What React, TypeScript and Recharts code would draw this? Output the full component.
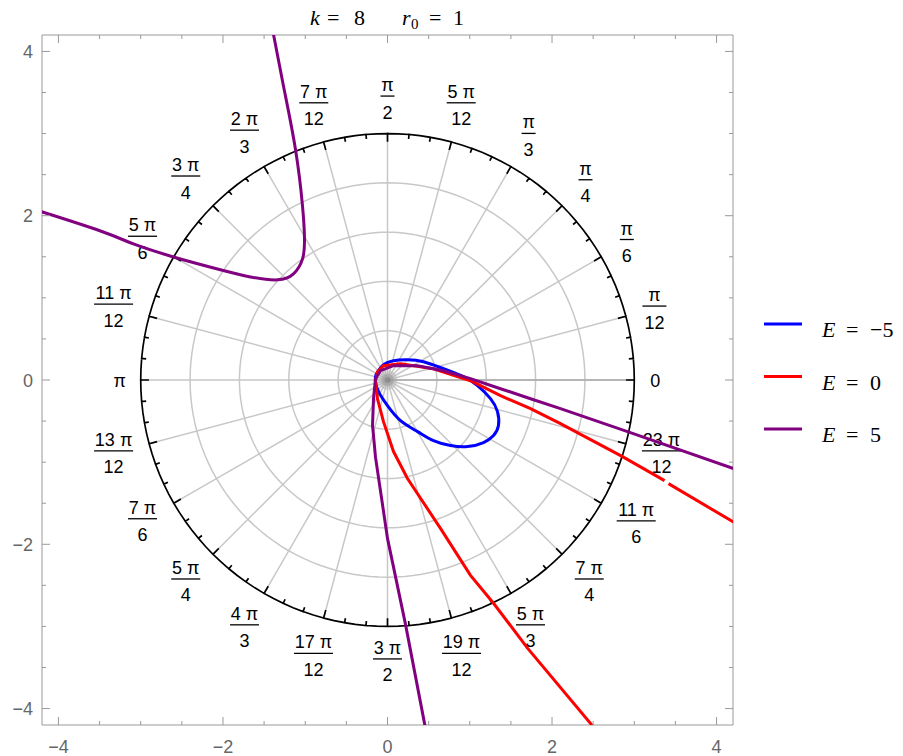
import React from "react";
import { ComposedChart, XAxis, YAxis, Scatter } from "recharts";

// frame ticks (every 0.5, labels on the even ones)
const frameTicks = [-4, -3.5, -3, -2.5, -2, -1.5, -1, -0.5, 0, 0.5, 1, 1.5, 2, 2.5, 3, 3.5, 4];
const majorTicks = [-4, -2, 0, 2, 4];

// polar grid
const ringRadii = [0.6, 1.2, 1.8, 2.4];
const outerRadius = 3;
const angleLabels = [
  "0", "π/12", "π/6", "π/4", "π/3", "5 π/12", "π/2", "7 π/12", "2 π/3", "3 π/4", "5 π/6", "11 π/12",
  "π", "13 π/12", "7 π/6", "5 π/4", "4 π/3", "17 π/12", "3 π/2", "19 π/12", "5 π/3", "7 π/4", "11 π/6", "23 π/12",
];

// orbits
const orbitMinus5 = [
  [-0.146, 0.052], [-0.061, 0.174], [0.073, 0.235], [0.243, 0.247], [0.438, 0.222], [0.681, 0.137],
  [0.924, 0.04], [1.094, -0.069], [1.252, -0.227], [1.337, -0.385], [1.349, -0.555], [1.289, -0.677],
  [1.167, -0.762], [0.973, -0.811], [0.766, -0.798], [0.559, -0.738], [0.365, -0.628], [0.158, -0.495],
  [0, -0.313], [-0.109, -0.142], [-0.146, -0.021], [-0.146, 0.052],
];
const orbitZeroA = [
  [2.559, -4.29], [1.702, -3.264], [1.289, -2.718], [1.009, -2.378], [0.644, -1.807], [0.243, -1.199],
  [0.073, -0.871], [-0.049, -0.507], [-0.122, -0.227], [-0.146, -0.021], [-0.122, 0.101], [-0.049, 0.174],
  [0.158, 0.198], [0.559, 0.137], [1.009, -0.009], [1.374, -0.191], [1.739, -0.349], [2.103, -0.532],
  [2.857, -0.933], [3.368, -1.225],
];
const orbitZeroB = [[3.416, -1.262], [4.195, -1.723], [4.29, -1.78]];
const orbitPlus5A = [
  [-4.34, 2.09], [-4.195, 2.045], [-3.489, 1.814], [-3.088, 1.656], [-2.602, 1.498], [-2.067, 1.352],
  [-1.666, 1.255], [-1.337, 1.219], [-1.143, 1.292], [-1.033, 1.474], [-1.009, 1.717], [-1.033, 2.118],
  [-1.119, 2.81], [-1.264, 3.576], [-1.386, 4.208], [-1.422, 4.39],
];
const orbitPlus5B = [
  [0.474, -4.3], [0.45, -4.18], [0.219, -2.975], [0, -1.928], [-0.146, -0.939], [-0.182, -0.551],
  [-0.17, -0.227], [-0.146, 0.016], [-0.085, 0.113], [0.073, 0.174], [0.365, 0.174], [0.681, 0.113],
  [1.009, 0.016], [1.374, -0.106], [1.739, -0.228], [2.103, -0.349], [2.918, -0.629], [4.207, -1.078],
  [4.316, -1.115],
];

const energies = ["\u22125", "0", "5"];
const colors = ["#0000ff", "#ff0000", "#800080"];

const toPts = (arr: number[][]) => arr.map(([x, y]) => ({ x, y }));

const axisColor = "#999";
const labelColor = "#666";
const sans = "'Liberation Sans', Arial, sans-serif";
const serif = "'Liberation Serif', 'Times New Roman', serif";
const DEG = Math.PI / 180;

const fmt = (v: number) => (v < 0 ? `\u2212${-v}` : `${v}`);

const polar = (r: number, deg: number) => ({ x: r * Math.cos(deg * DEG), y: r * Math.sin(deg * DEG) });

const circlePts = (r: number) => Array.from({ length: 145 }, (_, i) => polar(r, i * 2.5));

const spokes = angleLabels.flatMap((_, i) => [{ x: 0, y: 0 }, polar(outerRadius, i * 15)]);
const zeroSpoke = [{ x: 0, y: 0 }, polar(outerRadius, 0)];

// outer ring traced with its inward ticks (every 5 degrees, longer every 15)
const outerRingPath = Array.from({ length: 144 }, (_, i) => {
  const deg = i * 2.5;
  if (i % 2 === 1) return [polar(outerRadius, deg)];
  const len = deg % 15 === 0 ? 0.1 : 0.055;
  return [polar(outerRadius, deg), polar(outerRadius - len, deg), polar(outerRadius, deg)];
})
  .flat()
  .concat([polar(outerRadius, 0)]);

const labelPts = [
  ...angleLabels.map((label, i) => ({ ...polar(outerRadius, i * 15), deg: i * 15, label })),
  { x: 0, y: 0, deg: 0, label: "" },
];

const none = () => <g />;

const textW = (s: string) => {
  let w = 0;
  for (const c of s) w += c === " " ? 5 : 10;
  return w;
};

const AngleLabel = (props: any) => {
  const { cx, cy, payload } = props;
  const deg = payload?.deg ?? 0;
  const label: string = payload?.label ?? "";
  if (!label) {
    // soft grey spot where all the spokes meet
    return (
      <g>
        <circle cx={cx} cy={cy} r={10} fill="#999" fillOpacity={0.25} />
        <circle cx={cx} cy={cy} r={6} fill="#888" fillOpacity={0.35} />
        <circle cx={cx} cy={cy} r={3} fill="#777" fillOpacity={0.5} />
      </g>
    );
  }
  const a = deg * DEG;
  const c = Math.cos(a);
  const s = Math.sin(a);
  const parts = label.split("/");
  if (parts.length === 1) {
    const d = 16 + Math.abs(c) * 5 + Math.abs(s) * 7;
    return (
      <text x={cx + d * c} y={cy - d * s + 6.5} textAnchor="middle" fontSize={18} fontFamily={sans} fill="#000">
        {parts[0]}
      </text>
    );
  }
  const w = Math.max(textW(parts[0]), textW(parts[1])) + 4;
  const d = 12 + Math.abs(c) * (w / 2) + Math.abs(s) * 23;
  const x = cx + d * c;
  const y = cy - d * s;
  return (
    <g>
      <text x={x} y={y - 7.5} textAnchor="middle" fontSize={18} fontFamily={sans} fill="#000">
        {parts[0]}
      </text>
      <line x1={x - w / 2} x2={x + w / 2} y1={y - 2.5} y2={y - 2.5} stroke="#000" strokeWidth={1.3} />
      <text x={x} y={y + 20} textAnchor="middle" fontSize={18} fontFamily={sans} fill="#000">
        {parts[1]}
      </text>
    </g>
  );
};

const BottomTick = (props: any) => {
  const { x, y, payload } = props;
  const major = majorTicks.includes(payload.value);
  return (
    <g>
      <line x1={x} x2={x} y1={y} y2={y - (major ? 8 : 4)} stroke={axisColor} />
      {major && (
        <text x={x} y={y + 28} textAnchor="middle" fontSize={18} fontFamily={sans} fill={labelColor}>
          {fmt(payload.value)}
        </text>
      )}
    </g>
  );
};
const TopTick = (props: any) => {
  const { x, y, payload } = props;
  const major = majorTicks.includes(payload.value);
  return <line x1={x} x2={x} y1={y} y2={y + (major ? 8 : 4)} stroke={axisColor} />;
};
const LeftTick = (props: any) => {
  const { x, y, payload } = props;
  const major = majorTicks.includes(payload.value);
  return (
    <g>
      <line x1={x} x2={x + (major ? 8 : 4)} y1={y} y2={y} stroke={axisColor} />
      {major && (
        <text x={x - 9} y={y + 6.5} textAnchor="end" fontSize={18} fontFamily={sans} fill={labelColor}>
          {fmt(payload.value)}
        </text>
      )}
    </g>
  );
};
const RightTick = (props: any) => {
  const { x, y, payload } = props;
  const major = majorTicks.includes(payload.value);
  return <line x1={x} x2={x - (major ? 8 : 4)} y1={y} y2={y} stroke={axisColor} />;
};

const domain: [number, number] = [-4.2, 4.2];
const ids = { xAxisId: "b", yAxisId: "l" };

export default function App() {
  return (
    <div style={{ position: "absolute", left: 0, top: 0, width: 903, height: 756, background: "#fff" }}>
      <ComposedChart width={903} height={756} margin={{ top: 34, right: 169, bottom: 0, left: 0 }}>
        <XAxis xAxisId="b" type="number" dataKey="x" domain={domain} allowDataOverflow ticks={frameTicks}
          interval={0} height={31} tickSize={0} tickMargin={0} tickLine={false} tick={BottomTick}
          axisLine={{ stroke: axisColor }} />
        <XAxis xAxisId="t" orientation="top" type="number" dataKey="x" domain={domain} allowDataOverflow
          ticks={frameTicks} interval={0} height={1} tickSize={0} tickMargin={0} tickLine={false} tick={TopTick}
          axisLine={{ stroke: axisColor }} />
        <YAxis yAxisId="l" type="number" dataKey="y" domain={domain} allowDataOverflow ticks={frameTicks}
          interval={0} width={42} tickSize={0} tickMargin={0} tickLine={false} tick={LeftTick}
          axisLine={{ stroke: axisColor }} />
        <YAxis yAxisId="r" orientation="right" type="number" dataKey="y" domain={domain} allowDataOverflow
          ticks={frameTicks} interval={0} width={1} tickSize={0} tickMargin={0} tickLine={false} tick={RightTick}
          axisLine={{ stroke: axisColor }} />

        {ringRadii.map((r) => (
          <Scatter key={r} {...ids} data={circlePts(r)} line={{ stroke: "#c8c8c8", strokeWidth: 1.5 }}
            shape={none} isAnimationActive={false} legendType="none" />
        ))}
        <Scatter {...ids} data={spokes} line={{ stroke: "#c8c8c8", strokeWidth: 1.5 }} shape={none}
          isAnimationActive={false} legendType="none" />
        <Scatter {...ids} data={zeroSpoke} line={{ stroke: "#aaa", strokeWidth: 1.5 }} shape={none}
          isAnimationActive={false} legendType="none" />
        <Scatter {...ids} data={outerRingPath} line={{ stroke: "#000", strokeWidth: 1.7 }} shape={none}
          isAnimationActive={false} legendType="none" />
        <Scatter {...ids} data={labelPts} shape={AngleLabel} isAnimationActive={false} legendType="none" />

        <Scatter {...ids} name="E = -5" data={toPts(orbitMinus5)} line={{ stroke: colors[0], strokeWidth: 3 }}
          lineJointType="natural" shape={none} isAnimationActive={false} />
        <Scatter {...ids} name="E = 0" data={toPts(orbitZeroA)} line={{ stroke: colors[1], strokeWidth: 3 }}
          shape={none} isAnimationActive={false} />
        <Scatter {...ids} data={toPts(orbitZeroB)} line={{ stroke: colors[1], strokeWidth: 3 }}
          shape={none} isAnimationActive={false} legendType="none" />
        <Scatter {...ids} name="E = 5" data={toPts(orbitPlus5A)} line={{ stroke: colors[2], strokeWidth: 3 }}
          lineJointType="natural" shape={none} isAnimationActive={false} />
        <Scatter {...ids} data={toPts(orbitPlus5B)} line={{ stroke: colors[2], strokeWidth: 3 }}
          shape={none} isAnimationActive={false} legendType="none" />
      </ComposedChart>

      <svg width={903} height={756} style={{ position: "absolute", left: 0, top: 0, pointerEvents: "none" }}>
        <g fontSize={22} fontFamily={serif}>
          <text x={310} y={25} fontStyle="italic">k</text>
          <text x={327} y={25}>=</text>
          <text x={354} y={25}>8</text>
          <text x={402} y={25} fontStyle="italic">r</text>
          <text x={411} y={29} fontSize={15}>0</text>
          <text x={429} y={25}>=</text>
          <text x={453} y={25}>1</text>
        </g>
        {energies.map((e, i) => {
          const y = 324 + i * 52.5;
          return (
            <g key={e} fontSize={22} fontFamily={serif}>
              <line x1={764} x2={802} y1={y} y2={y} stroke={colors[i]} strokeWidth={3} />
              <text x={822} y={y + 13} fontStyle="italic">E</text>
              <text x={846} y={y + 13}>=</text>
              <text x={870} y={y + 13}>{e}</text>
            </g>
          );
        })}
      </svg>
    </div>
  );
}
